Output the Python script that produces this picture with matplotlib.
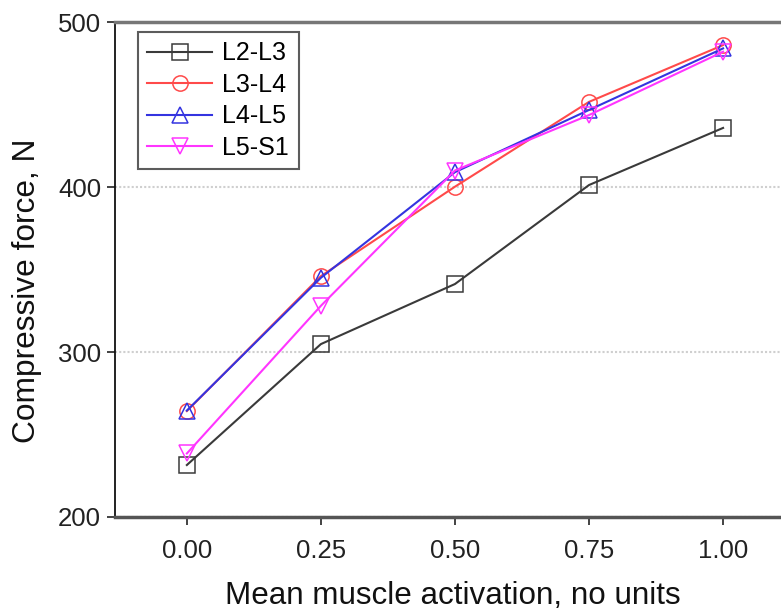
import matplotlib
matplotlib.use("Agg")
import matplotlib.pyplot as plt

plt.rcParams['font.family'] = ['Liberation Sans', 'DejaVu Sans']

activation = [0.00, 0.25, 0.50, 0.75, 1.00]
l2_l3 = [231.5, 304.8, 341.2, 401.2, 435.8]
l3_l4 = [264.2, 346.0, 400.2, 451.6, 486.0]
l4_l5 = [264.5, 345.0, 409.0, 446.7, 484.0]
l5_s1 = [238.5, 328.0, 410.0, 443.6, 482.0]

series = [
    ("L2-L3", l2_l3, "#3a3a3a", "s"),
    ("L3-L4", l3_l4, "#ff4a4a", "o"),
    ("L4-L5", l4_l5, "#3434e0", "^"),
    ("L5-S1", l5_s1, "#ff35ff", "v"),
]

fig = plt.figure(figsize=(7.81, 6.10), dpi=100)
ax = fig.add_axes([115 / 781, 93 / 610, 666 / 781, 495 / 610])

for name, vals, color, marker in series:
    ax.plot(activation, vals, color=color, marker=marker, markersize=11,
            markerfacecolor="none", markeredgecolor=color, markeredgewidth=1.1,
            linewidth=1.5, label=name)

ax.set_xlim(-0.134, 1.108)
ax.set_ylim(200, 500)
ax.set_xticks([0.00, 0.25, 0.50, 0.75, 1.00])
ax.set_xticklabels(["0.00", "0.25", "0.50", "0.75", "1.00"])
ax.set_yticks([200, 300, 400, 500])

ax.grid(axis="y", color="#cfcfcf", linestyle=(0, (1, 1)), linewidth=1.5)
ax.set_axisbelow(True)

ax.spines["left"].set_color("#111111")
ax.spines["left"].set_linewidth(1.3)
ax.spines["bottom"].set_color("#555555")
ax.spines["bottom"].set_linewidth(2.5)
ax.spines["top"].set_color("#777777")
ax.spines["top"].set_linewidth(2.5)
ax.spines["right"].set_visible(False)

ax.tick_params(axis="both", direction="out", length=6, width=1.2,
               labelsize=18.5, colors="#222222", pad=4)
ax.tick_params(axis="x", pad=10)

ax.set_xlabel("Mean muscle activation, no units", fontsize=22.6, labelpad=13,
              color="#111111")
ax.set_ylabel("Compressive force, N", fontsize=22.8, color="#111111")
ax.xaxis.label.set_x(0.5075)
ax.yaxis.set_label_coords(-0.11, 0.457)

leg = ax.legend(loc="upper left", bbox_to_anchor=(0.0345, 0.98), fontsize=18,
                frameon=True, fancybox=False, edgecolor="#333333",
                handlelength=2.6, handletextpad=0.4, borderpad=0.38,
                labelspacing=0.3, borderaxespad=0.0)
leg.get_frame().set_linewidth(1.5)

fig.savefig("out.png", dpi=100)
